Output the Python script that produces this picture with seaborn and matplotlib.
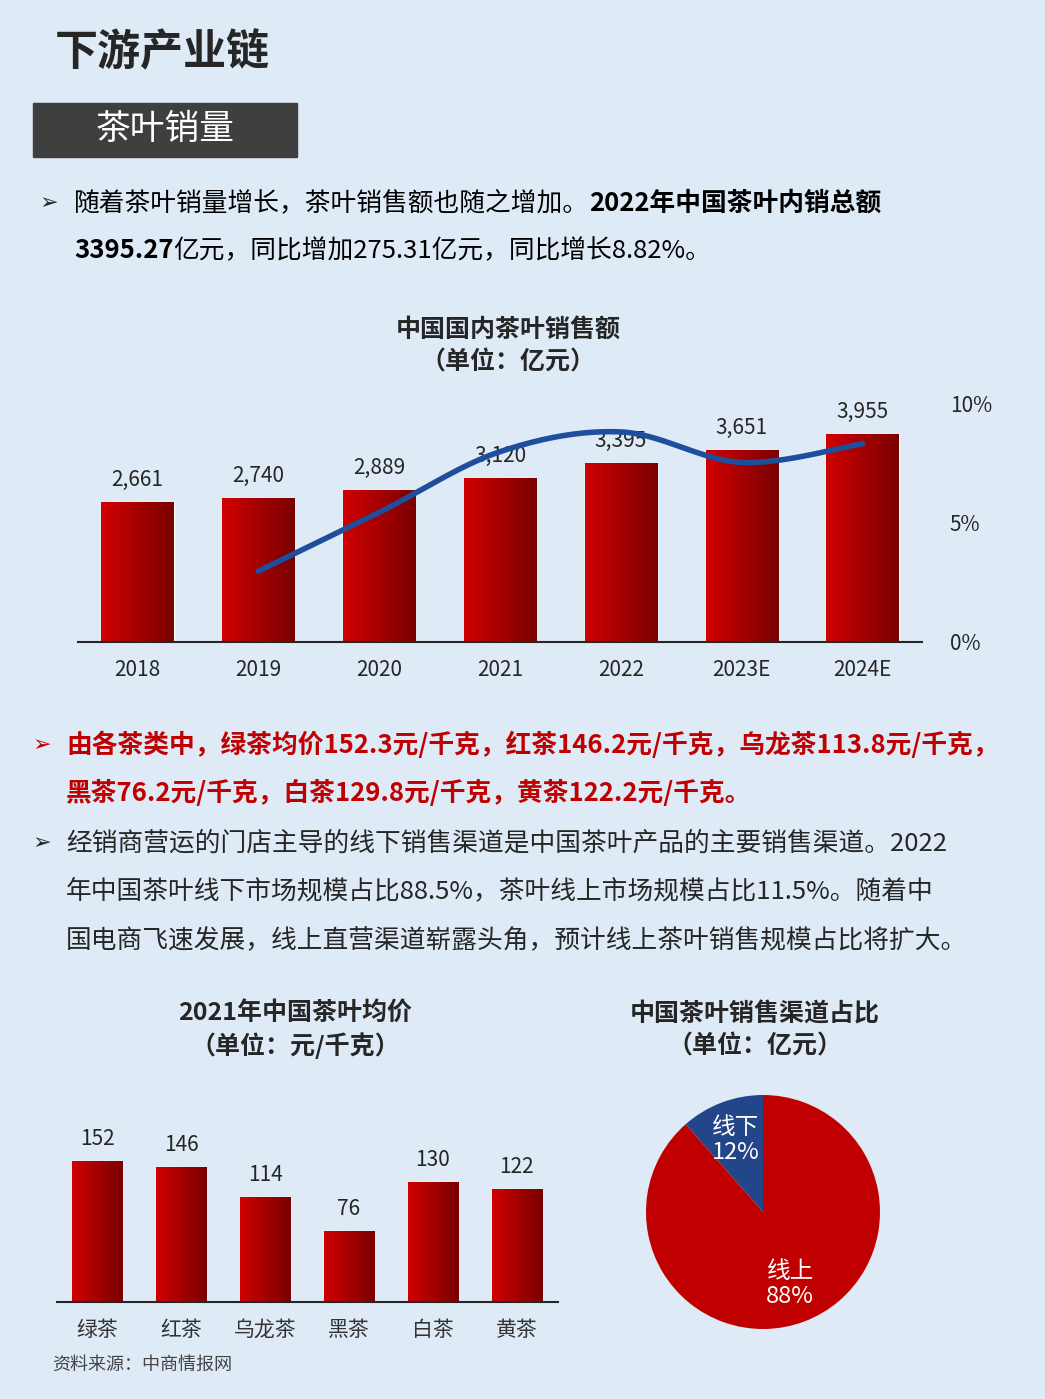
import numpy as np
import pandas as pd
import matplotlib
matplotlib.use('Agg')
import matplotlib.pyplot as plt
import seaborn as sns

sns.set_style('white')
plt.rcParams['font.family'] = ['Noto Sans CJK SC', 'DejaVu Sans']
plt.rcParams['axes.unicode_minus'] = False

# ---- 数据 ----
years = ['2018', '2019', '2020', '2021', '2022', '2023E', '2024E']
sales = [2661, 2740, 2889, 3120, 3395, 3651, 3955]
growth = [np.nan, 2.97, 5.44, 7.99, 8.82, 7.54, 8.33]

tea_types = ['绿茶', '红茶', '乌龙茶', '黑茶', '白茶', '黄茶']
tea_price = [152.3, 146.2, 113.8, 76.2, 129.8, 122.2]

channels = ['线下', '线上']
channel_share = [11.5, 88.5]

BG = '#deeaf6'
RED = '#c00000'
BLUE = '#1f4e9c'
W, H = 1045, 1399
BODY = 18.5

fig = plt.figure(figsize=(W / 100, H / 100), dpi=100, facecolor=BG)
renderer = fig.canvas.get_renderer()


def fx(px):
    return px / W


def fy(py):
    return 1 - py / H


def rich_line(x, y, pieces, size=BODY):
    # 把不同样式的文字片段依次排成一行
    cur = fx(x)
    for txt, bold, color in pieces:
        t = fig.text(cur, fy(y), txt, fontsize=size, color=color,
                     fontweight='bold' if bold else 'normal', va='center', ha='left')
        bb = t.get_window_extent(renderer)
        cur += bb.width / W


def gradient_bars(ax):
    grad = np.linspace(0, 1, 64).reshape(1, -1)
    cmap = matplotlib.colors.LinearSegmentedColormap.from_list('g', ['#d00000', '#7a0000'])
    for p in ax.patches:
        x0, y0 = p.get_x(), p.get_y()
        w, h = p.get_width(), p.get_height()
        im = ax.imshow(grad, extent=[x0, x0 + w, y0, y0 + h], cmap=cmap,
                       aspect='auto', zorder=2, interpolation='bicubic')
        im.set_clip_path(p)


# ---- 标题区 ----
fig.text(fx(55), fy(52), '下游产业链', fontsize=31, fontweight='bold', va='center', ha='left')
fig.patches.append(matplotlib.patches.Rectangle((fx(33), fy(157)), fx(264), 54 / H,
                                                transform=fig.transFigure, color='#3f3f3f'))
fig.text(fx(165), fy(130), '茶叶销量', fontsize=25, color='white', va='center', ha='center')

fig.text(fx(40), fy(203), '➢', fontsize=16, va='center', family=['DejaVu Sans'])
rich_line(74, 203, [('随着茶叶销量增长，茶叶销售额也随之增加。', False, 'black'),
                    ('2022年中国茶叶内销总额', True, 'black')])
rich_line(74, 251, [('3395.27', True, 'black'),
                    ('亿元，同比增加275.31亿元，同比增长8.82%。', False, 'black')])

# ---- 销售额图 ----
fig.text(fx(508), fy(330), '中国国内茶叶销售额', fontsize=18, fontweight='bold', ha='center', va='center')
fig.text(fx(508), fy(362), '（单位：亿元）', fontsize=18, fontweight='bold', ha='center', va='center')

ax1 = fig.add_axes([fx(78), fy(642), 844 / W, 262 / H])
ax1.set_facecolor('none')
df1 = pd.DataFrame({'year': years, 'sales': sales, 'growth': growth})
sns.barplot(data=df1, x='year', y='sales', ax=ax1, width=0.6, color=RED, zorder=1)
gradient_bars(ax1)
ax1.bar_label(ax1.containers[0], labels=[f'{v:,}' for v in sales], padding=8, fontsize=15)
ax1.set_xlim(-0.49, 6.49)
ax1.set_ylim(0, 4981)
ax1.set_yticks([])
ax1.set_xlabel('')
ax1.set_ylabel('')
ax1.tick_params(axis='x', length=0, labelsize=15, pad=12)
for s in ['top', 'right', 'left']:
    ax1.spines[s].set_visible(False)
ax1.spines['bottom'].set_linewidth(1.5)

ax1b = ax1.twinx()
# Catmull-Rom 平滑曲线（仅用于绘制）
xs = np.arange(1, 7)
ys = np.array(growth[1:])
px = np.concatenate([[xs[0]], xs, [xs[-1]]])
py = np.concatenate([[ys[0]], ys, [ys[-1]]])
cx, cy = [], []
for i in range(1, len(px) - 2):
    t = np.linspace(0, 1, 30)
    for arr, out in ((px, cx), (py, cy)):
        p0, p1, p2, p3 = arr[i - 1], arr[i], arr[i + 1], arr[i + 2]
        out.extend(0.5 * ((2 * p1) + (-p0 + p2) * t + (2 * p0 - 5 * p1 + 4 * p2 - p3) * t ** 2
                          + (-p0 + 3 * p1 - 3 * p2 + p3) * t ** 3))
sns.lineplot(x=cx, y=cy, ax=ax1b, color=BLUE, linewidth=4, sort=False, zorder=5)
ax1b.set_ylim(0, 11.0)
ax1b.set_yticks([0, 5, 10])
ax1b.set_yticklabels(['0%', '5%', '10%'])
ax1b.tick_params(axis='y', length=0, labelsize=15, pad=20)
for s in ['top', 'right', 'left', 'bottom']:
    ax1b.spines[s].set_visible(False)

# ---- 第二、三段文字 ----
fig.text(fx(33), fy(745), '➢', fontsize=16, va='center', color=RED, family=['DejaVu Sans'])
fig.text(fx(66), fy(745), '由各茶类中，绿茶均价152.3元/千克，红茶146.2元/千克，乌龙茶113.8元/千克，',
         fontsize=BODY, fontweight='bold', color=RED, va='center')
fig.text(fx(66), fy(794), '黑茶76.2元/千克，白茶129.8元/千克，黄茶122.2元/千克。',
         fontsize=BODY, fontweight='bold', color=RED, va='center')
fig.text(fx(33), fy(843), '➢', fontsize=16, va='center', family=['DejaVu Sans'])
for yy, line in zip([843, 891, 940],
                    ['经销商营运的门店主导的线下销售渠道是中国茶叶产品的主要销售渠道。2022',
                     '年中国茶叶线下市场规模占比88.5%，茶叶线上市场规模占比11.5%。随着中',
                     '国电商飞速发展，线上直营渠道崭露头角，预计线上茶叶销售规模占比将扩大。']):
    fig.text(fx(66), fy(yy), line, fontsize=BODY, va='center')

# ---- 均价图 ----
fig.text(fx(295), fy(1014), '2021年中国茶叶均价', fontsize=18, fontweight='bold', ha='center', va='center')
fig.text(fx(295), fy(1046), '（单位：元/千克）', fontsize=18, fontweight='bold', ha='center', va='center')
ax2 = fig.add_axes([fx(57), fy(1302), 501 / W, 212 / H])
ax2.set_facecolor('none')
df2 = pd.DataFrame({'tea': tea_types, 'price': tea_price})
sns.barplot(data=df2, x='tea', y='price', ax=ax2, width=0.6, color=RED, zorder=1)
gradient_bars(ax2)
ax2.bar_label(ax2.containers[0], labels=[f'{v:.0f}' for v in tea_price], padding=8, fontsize=15)
ax2.set_xlim(-0.48, 5.49)
ax2.set_ylim(0, 229)
ax2.set_yticks([])
ax2.set_xlabel('')
ax2.set_ylabel('')
ax2.tick_params(axis='x', length=0, labelsize=15, pad=12, labelcolor='#333333')
for s in ['top', 'right', 'left']:
    ax2.spines[s].set_visible(False)
ax2.spines['bottom'].set_linewidth(1.5)

fig.text(fx(52), fy(1365), '资料来源：中商情报网', fontsize=13, style='italic', color='#444444', va='center')

# ---- 渠道饼图 ----
fig.text(fx(755), fy(1014), '中国茶叶销售渠道占比', fontsize=18, fontweight='bold', ha='center', va='center')
fig.text(fx(755), fy(1046), '（单位：亿元）', fontsize=18, fontweight='bold', ha='center', va='center')
ax3 = fig.add_axes([fx(633), fy(1342), 260 / W, 260 / H])
wedges, _, autotexts = ax3.pie(channel_share, colors=['#23468a', RED], startangle=90, radius=0.9,
                               autopct='%.0f%%', pctdistance=0.66,
                               wedgeprops=dict(edgecolor='none'))
for txt, lab, val in zip(autotexts, channels, channel_share):
    txt.set_text(f'{lab}\n{val:.0f}%')
    txt.set_color('white')
    txt.set_fontsize(17)
    txt.set_linespacing(1.1)
ax3.set_xlim(-1, 1)
ax3.set_ylim(-1, 1)

fig.savefig('out.png', dpi=100, facecolor=BG)
